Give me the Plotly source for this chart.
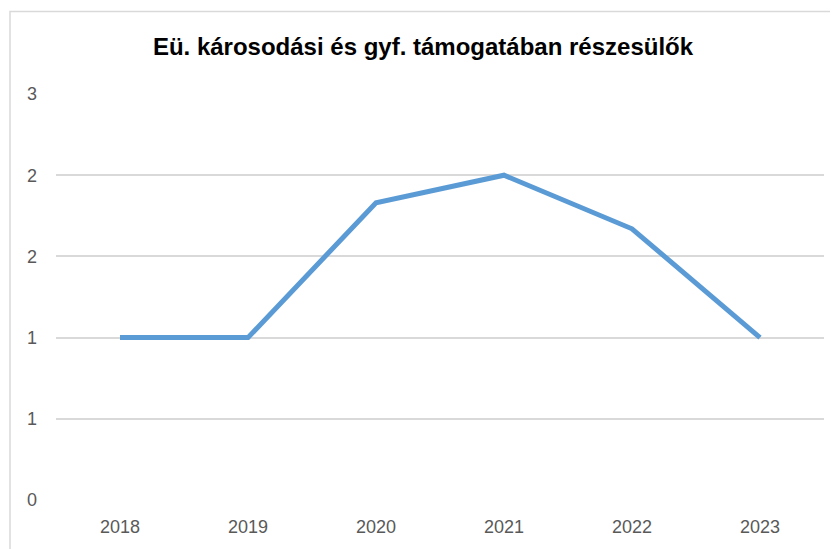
import plotly.graph_objects as go

years = ["2018", "2019", "2020", "2021", "2022", "2023"]
values = [1.0, 1.0, 1.83, 2.0, 1.67, 1.0]
y_tickvals = [0, 0.5, 1, 1.5, 2, 2.5]
y_ticktext = ["0", "1", "1", "2", "2", "3"]
title = "Eü. károsodási és gyf. támogatában részesülők"

W, H = 830, 541
L, R, T, B = 48, 14, 86, 47
PW, PH = W - L - R, H - T - B

fig = go.Figure()
fig.add_trace(go.Scatter(
    x=years, y=values, mode="lines",
    line=dict(color="#5B9BD5", width=5),
    hoverinfo="x+y",
))

fig.update_layout(
    width=W, height=H,
    margin=dict(l=L, r=R, t=T, b=B),
    paper_bgcolor="white", plot_bgcolor="white",
    showlegend=False,
    title=dict(text="<b>" + title + "</b>", x=0.5, xanchor="center",
               y=1 - 39 / H, yanchor="middle",
               font=dict(family="Liberation Sans, Arial, sans-serif", size=24, color="#000000")),
    font=dict(family="Liberation Sans, Arial, sans-serif", size=18, color="#595959"),
    xaxis=dict(type="category", showgrid=False, zeroline=False, showline=False,
               ticks="", range=[-0.5, 5.5], ticklabelstandoff=14,
               tickfont=dict(size=18, color="#595959")),
    yaxis=dict(range=[0, 2.5], tickvals=y_tickvals, ticktext=y_ticktext,
               showgrid=True, gridcolor="#D9D9D9", gridwidth=1.5,
               zeroline=False, showline=False, ticks="",
               ticklabelstandoff=18,
               tickfont=dict(size=18, color="#595959")),
    shapes=[dict(type="rect", xref="paper", yref="paper",
                 x0=(2 - L) / PW, x1=(845 - L) / PW,
                 y0=(PH + T - 600) / PH, y1=(PH + T - 3) / PH,
                 line=dict(color="#D9D9D9", width=1.5), layer="below")],
)

fig.write_html("out.html")
